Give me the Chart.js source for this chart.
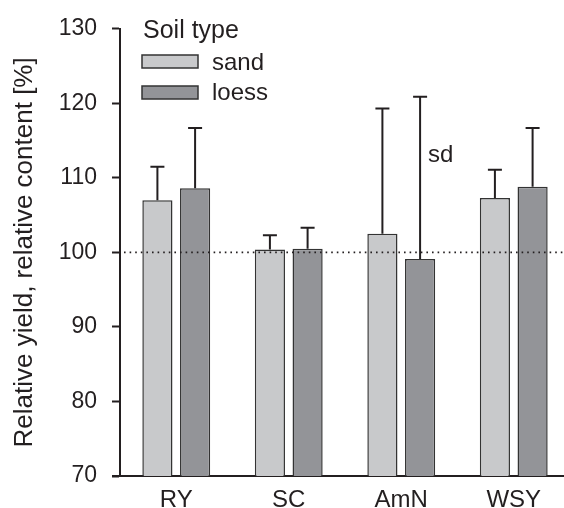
<!DOCTYPE html>
<html>
<head>
<meta charset="utf-8">
<script src="https://cdn.jsdelivr.net/npm/chart.js@4"></script>
<style>
  body { margin: 0; background: #fff; overflow: hidden; }
  canvas { display: block; }
</style>
</head>
<body>
<canvas id="myChart" width="572" height="508"></canvas>
<script>
// Données
const categories = ['RY', 'SC', 'AmN', 'WSY'];
const sandMean = [107.0, 100.4, 102.5, 107.3];
const sandSd = [4.5, 1.9, 16.8, 3.8];
const loessMean = [108.6, 100.5, 99.1, 108.8];
const loessSd = [8.1, 2.8, 21.8, 7.9];
const yTicks = [70, 80, 90, 100, 110, 120, 130];

const textColor = '#231f20';
const police = 'Liberation Sans, Arial, sans-serif';

// barres d'erreur (seulement vers le haut), ligne pointillée à 100, légende, "sd"
const decorPlugin = {
    id: 'decor',
    afterDatasetsDraw(chart) {
        const ctx = chart.ctx;
        const y = chart.scales.y;
        const area = chart.chartArea;
        const sds = [sandSd, loessSd];

        ctx.save();
        ctx.strokeStyle = '#231f20';
        ctx.lineWidth = 2;
        chart.data.datasets.forEach((ds, di) => {
            const meta = chart.getDatasetMeta(di);
            meta.data.forEach((bar, i) => {
                const top = y.getPixelForValue(ds.data[i] + sds[di][i]);
                ctx.beginPath();
                ctx.moveTo(bar.x, bar.y);
                ctx.lineTo(bar.x, top);
                ctx.moveTo(bar.x - 7, top);
                ctx.lineTo(bar.x + 7, top);
                ctx.stroke();
            });
        });

        // ligne pointillée à 100 %
        const y100 = y.getPixelForValue(100);
        ctx.lineWidth = 1.6;
        ctx.setLineDash([1.6, 4]);
        ctx.beginPath();
        ctx.moveTo(area.left + 4, y100);
        ctx.lineTo(area.right, y100);
        ctx.stroke();
        ctx.setLineDash([]);

        // prolongement de l'axe x à gauche
        ctx.lineWidth = 2;
        ctx.beginPath();
        ctx.moveTo(area.left - 8, area.bottom);
        ctx.lineTo(area.left, area.bottom);
        ctx.stroke();

        // légende
        ctx.fillStyle = textColor;
        ctx.font = '25px ' + police;
        ctx.textBaseline = 'alphabetic';
        ctx.textAlign = 'left';
        ctx.fillText('Soil type', 143, 38);
        const rows = [['sand', 55, 69.5], ['loess', 86, 100]];
        rows.forEach((r, k) => {
            ctx.fillStyle = chart.data.datasets[k].backgroundColor;
            ctx.fillRect(142, r[1], 56, 13);
            ctx.strokeStyle = '#333';
            ctx.lineWidth = 1.5;
            ctx.strokeRect(142, r[1], 56, 13);
            ctx.fillStyle = textColor;
            ctx.font = '24px ' + police;
            ctx.fillText(r[0], 212, r[2]);
        });

        ctx.font = '24px ' + police;
        ctx.fillText('sd', 428, 162);
        ctx.restore();
    }
};

const ctx = document.getElementById('myChart').getContext('2d');
new Chart(ctx, {
    type: 'bar',
    data: {
        labels: categories,
        datasets: [
            {
                label: 'sand',
                data: sandMean,
                backgroundColor: '#c8c9cb',
                borderColor: '#333',
                borderWidth: 1.5,
                categoryPercentage: 0.67,
                barPercentage: 0.8
            },
            {
                label: 'loess',
                data: loessMean,
                backgroundColor: '#939498',
                borderColor: '#333',
                borderWidth: 1.5,
                categoryPercentage: 0.67,
                barPercentage: 0.8
            }
        ]
    },
    options: {
        responsive: false,
        animation: false,
        layout: { padding: { top: 27, right: 2, left: 9, bottom: 0 } },
        plugins: {
            legend: { display: false },
            tooltip: { enabled: false }
        },
        scales: {
            x: {
                grid: { display: false, drawTicks: false },
                border: { color: '#231f20', width: 2 },
                ticks: {
                    color: textColor,
                    font: { size: 24, family: police },
                    padding: 10
                },
                afterFit(scale) { scale.height = 32; }
            },
            y: {
                min: 70,
                max: 130,
                afterBuildTicks(scale) { scale.ticks = yTicks.map(v => ({ value: v })); },
                grid: { drawOnChartArea: false, tickLength: 8, tickColor: '#231f20', tickWidth: 2 },
                border: { color: '#231f20', width: 2 },
                ticks: {
                    color: textColor,
                    font: { size: 23, family: police },
                    padding: 15
                },
                title: {
                    display: true,
                    text: 'Relative yield, relative content [%]',
                    color: textColor,
                    font: { size: 26, family: police, lineHeight: 1.2 },
                    padding: { top: 0, bottom: 0 }
                },
                afterFit(scale) { scale.width = 111; }
            }
        }
    },
    plugins: [decorPlugin]
});
</script>
</body>
</html>
